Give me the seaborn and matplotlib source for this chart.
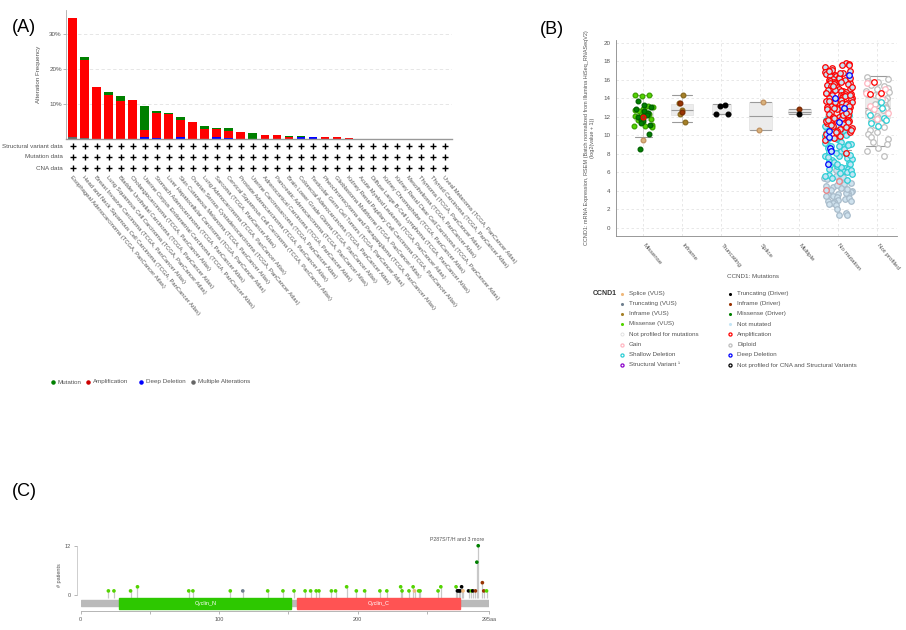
import numpy as np
import pandas as pd
import matplotlib
matplotlib.use("Agg")
import matplotlib.pyplot as plt
from matplotlib.patches import Rectangle
import seaborn as sns

sns.set_theme(style="white")
plt.rcParams["font.family"] = ["Liberation Sans", "DejaVu Sans"]

# ---------------------------------------------------------------- data (A)
cancer_types = [
    "Esophageal Adenocarcinoma", "Head and Neck Squamous Cell Carcinoma",
    "Breast Invasive Carcinoma", "Lung Squamous Cell Carcinoma",
    "Bladder Urothelial Carcinoma", "Cholangiocarcinoma",
    "Uterine Corpus Endometrial Carcinoma", "Stomach Adenocarcinoma",
    "Liver Hepatocellular Carcinoma", "Skin Cutaneous Melanoma",
    "Ovarian Serous Cystadenocarcinoma", "Lung Adenocarcinoma", "Sarcoma",
    "Cervical Squamous Cell Carcinoma", "Prostate Adenocarcinoma",
    "Uterine Carcinosarcoma", "Adrenocortical Carcinoma",
    "Pancreatic Adenocarcinoma", "Brain Lower Grade Glioma",
    "Colorectal Adenocarcinoma", "Testicular Germ Cell Tumors",
    "Pheochromocytoma and Paraganglioma", "Glioblastoma Multiforme",
    "Kidney Renal Papillary Cell Carcinoma", "Acute Myeloid Leukemia",
    "Diffuse Large B-Cell Lymphoma", "Kidney Chromophobe",
    "Kidney Renal Clear Cell Carcinoma", "Mesothelioma", "Thymoma",
    "Thyroid Carcinoma", "Uveal Melanoma",
]
study_suffix = " (TCGA, PanCancer Atlas)"
pct_mutation = [0, 0.75, 0, 0.7, 1.2, 0, 7.0, 0.6, 0.2, 0.9, 0.1, 0.6, 0.3, 0.7,
                0, 1.6, 0, 0, 0.4, 0.3, 0, 0, 0, 0, 0, 0, 0, 0, 0, 0, 0, 0]
pct_amplification = [34.0, 22.3, 14.8, 12.5, 10.9, 11.0, 1.8, 6.9, 7.0, 4.9, 4.7,
                     2.9, 2.2, 2.0, 1.8, 0, 1.05, 1.05, 0.45, 0, 0, 0.4, 0.4,
                     0.3, 0, 0, 0, 0, 0, 0, 0, 0]
pct_deep_deletion = [0, 0, 0, 0, 0, 0, 0.6, 0.3, 0, 0.4, 0, 0, 0.6, 0.3, 0, 0,
                     0, 0, 0, 0.35, 0.5, 0, 0, 0, 0, 0, 0, 0, 0, 0, 0, 0]
pct_multiple = [0.5, 0.3, 0, 0, 0, 0, 0, 0, 0, 0, 0, 0, 0, 0, 0, 0,
                0, 0, 0, 0, 0, 0, 0, 0, 0, 0, 0, 0, 0, 0, 0, 0]
profile_rows = ["Structural variant data", "Mutation data", "CNA data"]
freq_legend = ["Mutation", "Amplification", "Deep Deletion", "Multiple Alterations"]

# ---------------------------------------------------------------- data (B)
mut_categories = ["Missense", "Inframe", "Truncating", "Splice", "Multiple",
                  "No mutation", "Not profiled"]
box_lo = [9.8, 11.4, 12.3, 10.6, 12.3, 8.4, 8.8]
box_q1 = [11.6, 12.2, 12.3, 10.6, 12.3, 11.2, 11.9]
box_med = [12.0, 12.7, 12.35, 12.1, 12.55, 12.1, 12.9]
box_q3 = [12.7, 13.4, 13.4, 13.6, 12.8, 13.0, 14.0]
box_hi = [14.3, 14.4, 13.4, 13.6, 12.8, 15.7, 16.4]

missense_vus = [14.3, 14.3, 14.2, 13.2, 13.1, 12.9, 12.8, 12.7, 12.6, 12.5, 12.4,
                12.3, 12.2, 12.1, 11.9, 11.8, 11.6, 11.4, 11.1, 11.0, 11.0, 10.9]
missense_driver = [13.7, 13.3, 13.0, 12.8, 12.6, 12.4, 12.2, 12.1, 12.0, 11.9,
                   11.7, 11.5, 11.3, 11.1, 10.1, 8.5]
missense_splice = [9.5]
missense_amp = [12.0]
inframe_vus = [14.4, 13.5, 12.7, 12.3, 11.4]
inframe_driver = [13.5, 12.5]
truncating_driver = [13.3, 13.2, 12.35, 12.3]
splice_vus = [13.6, 10.6]
multiple_inframe = [12.8]
multiple_truncating = [12.35]

nomut_diploid = [6.2, 5.9, 5.8, 5.6, 5.4, 5.3, 5.1, 5.0, 4.9, 4.8, 4.7, 4.5, 4.4,
                 4.3, 4.1, 4.0, 3.9, 3.8, 3.6, 3.5, 3.5, 3.4, 3.3, 3.1, 3.0, 2.9,
                 2.8, 2.8, 2.7, 2.6, 2.5, 2.0, 1.6, 1.4, 1.4, 4.6, 3.7, 3.2, 5.5,
                 4.2, 2.9, 3.4]
nomut_shallow = [12.2, 11.9, 11.7, 11.5, 11.4, 11.2, 11.1, 10.9, 10.8, 10.7, 10.5,
                 10.4, 10.3, 10.1, 10.0, 9.9, 9.8, 9.6, 9.5, 9.4, 9.3, 9.1, 9.0,
                 8.9, 8.8, 8.7, 8.6, 8.4, 8.3, 8.2, 8.0, 7.9, 7.8, 7.7, 7.5, 7.4,
                 7.3, 7.2, 7.0, 6.9, 6.8, 6.7, 6.5, 6.4, 6.3, 6.1, 6.0, 5.9, 5.7,
                 5.6, 5.4, 5.2, 11.6, 11.0, 10.6, 10.2, 9.7, 9.2, 8.8, 8.5, 8.1,
                 7.6, 7.1, 6.6, 6.2, 5.8, 10.9, 9.9, 8.9, 7.9, 6.9]
nomut_amp = [17.8, 17.7, 17.6, 17.6, 17.4, 17.3, 17.1, 17.0, 16.9, 16.8, 16.7,
             16.6, 16.5, 16.4, 16.4, 16.3, 16.2, 16.1, 16.0, 16.0, 15.9, 15.8,
             15.7, 15.7, 15.6, 15.5, 15.4, 15.4, 15.3, 15.2, 15.1, 15.0, 15.0,
             14.9, 14.8, 14.8, 14.7, 14.6, 14.5, 14.5, 14.4, 14.3, 14.3, 14.2,
             14.1, 14.0, 14.0, 13.9, 13.8, 13.8, 13.7, 13.6, 13.5, 13.5, 13.4,
             13.3, 13.3, 13.2, 13.1, 13.0, 13.0, 12.9, 12.8, 12.8, 12.7, 12.6,
             12.5, 12.5, 12.4, 12.3, 12.2, 12.1, 12.0, 12.0, 11.9, 11.8, 11.7,
             11.6, 11.5, 11.4, 11.3, 11.2, 11.0, 10.9, 10.7, 10.5, 10.3, 10.1,
             9.9, 9.7, 9.5, 8.1, 16.7, 16.2, 15.8, 15.5, 15.2, 14.9, 14.6, 14.2,
             13.9, 13.6, 13.2, 12.9, 12.6, 12.2, 11.9, 11.5, 11.1, 10.8, 10.4,
             16.9, 15.3, 14.4, 13.7, 12.4, 11.7, 10.6]
nomut_gain = [5.0, 4.1]
nomut_deep = [16.5, 14.0, 12.9, 11.4, 10.5, 9.8, 8.6, 8.3, 6.9]

notprof_diploid = [16.3, 16.1, 15.9, 15.8, 15.6, 15.4, 15.3, 15.1, 15.0, 14.8,
                   14.7, 14.5, 14.3, 14.2, 14.0, 13.8, 13.6, 13.4, 13.3, 13.1,
                   12.9, 12.7, 12.5, 12.3, 12.1, 11.9, 11.7, 11.5, 11.3, 11.1,
                   10.9, 10.6, 10.4, 10.1, 9.8, 9.6, 9.3, 9.0, 8.6, 8.3, 7.7]
notprof_gain = [15.6, 15.0, 14.6, 13.9, 13.2, 12.8, 12.4, 11.8]
notprof_shallow = [13.6, 12.9, 12.2, 11.9, 11.6, 11.3, 11.0]
notprof_amp = [15.8, 14.6, 14.5]

legend_b_left = ["Splice (VUS)", "Truncating (VUS)", "Inframe (VUS)", "Missense (VUS)",
                 "Not profiled for mutations", "Gain", "Shallow Deletion",
                 "Structural Variant \u00b9"]
legend_b_right = ["Truncating (Driver)", "Inframe (Driver)", "Missense (Driver)",
                  "Not mutated", "Amplification", "Diploid", "Deep Deletion",
                  "Not profiled for CNA and Structural Variants"]

# ---------------------------------------------------------------- data (C)
protein_length = 295
domain_names = ["Cyclin_N", "Cyclin_C"]
domain_start = [28, 156]
domain_end = [152, 274]
lolli_pos = [20, 24, 36, 41, 78, 81, 108, 117, 135, 146, 154, 162, 166, 170, 172,
             181, 184, 192, 199, 205, 216, 221, 231, 232, 237, 240, 241, 244, 245,
             258, 260, 271, 272, 273, 274, 275, 276, 280, 282, 283, 285, 286, 287,
             290, 291, 293]
lolli_count = [1, 1, 1, 2, 1, 1, 1, 1, 1, 1, 1, 1, 1, 1, 1, 1, 1, 2, 1, 1, 1, 1,
               2, 1, 1, 2, 1, 1, 1, 1, 2, 2, 1, 1, 1, 2, 1, 1, 1, 1, 1, 8, 12, 3,
               1, 1]
lolli_type = ["Missense (VUS)"] * 7 + ["Truncating (VUS)"] + ["Missense (VUS)"] * 18 + \
             ["Splice (VUS)"] + ["Missense (VUS)"] * 4 + \
             ["Missense (VUS)", "Truncating (Driver)", "Truncating (Driver)",
              "Truncating (Driver)", "Truncating (Driver)", "Splice (VUS)",
              "Truncating (Driver)", "Missense (VUS)", "Truncating (Driver)",
              "Inframe (Driver)", "Missense (Driver)", "Missense (Driver)",
              "Inframe (Driver)", "Inframe (Driver)", "Missense (VUS)"]
hotspot_label = "P287S/T/H and 3 more"

# ---------------------------------------------------------------- colours
C_MUT, C_AMP, C_DEL, C_MULTI = "#008000", "#ff0000", "#0000ff", "#666666"
mut_colors = {
    "Splice (VUS)": "#f0b87b", "Truncating (VUS)": "#708090",
    "Inframe (VUS)": "#a68028", "Missense (VUS)": "#53d400",
    "Truncating (Driver)": "#000000", "Inframe (Driver)": "#993404",
    "Missense (Driver)": "#008000",
}
C_NOTMUT = "#c4e5f5"
C_GAIN, C_SHALLOW, C_SV = "#ffb6c1", "#2aced4", "#8b00c9"
C_DIPLOID = "#bebebe"
TXT = "#555555"

W, H = 906, 630
fig = plt.figure(figsize=(W / 100, H / 100), dpi=100)


def px_axes(x0, y0, x1, y1):
    ax = fig.add_axes([x0 / W, 1 - y1 / H, (x1 - x0) / W, (y1 - y0) / H])
    ax.set_facecolor("none")
    return ax


ann = fig.add_axes([0, 0, 1, 1])
ann.set_xlim(0, W)
ann.set_ylim(H, 0)
ann.axis("off")

# ================================================================ panel A
axA = px_axes(66, 9.5, 452, 138.7)
cum_multi = np.array(pct_multiple)
cum_del = cum_multi + np.array(pct_deep_deletion)
cum_amp = cum_del + np.array(pct_amplification)
cum_mut = cum_amp + np.array(pct_mutation)
for tops, col in [(cum_mut, C_MUT), (cum_amp, C_AMP), (cum_del, C_DEL), (cum_multi, C_MULTI)]:
    sns.barplot(x=cancer_types, y=tops, order=cancer_types, color=col, saturation=1,
                width=0.7, errorbar=None, linewidth=0, ax=axA)
axA.set_xlim(-0.55, 31.6)
axA.set_ylim(0, 36.9)
axA.set_yticks([10, 20, 30])
axA.set_yticklabels(["10%", "20%", "30%"], fontsize=4.5, color=TXT)
axA.tick_params(axis="x", bottom=False, labelbottom=False)
axA.tick_params(axis="y", left=True, length=2, width=0.5, color="#999999", pad=1)
axA.set_xlabel("")
axA.set_ylabel("Alteration Frequency", fontsize=4.5, color=TXT, labelpad=6)
axA.yaxis.grid(True, linestyle=(0, (4, 3)), color="#e2e2e2", linewidth=0.6)
axA.set_axisbelow(True)
for s in ["top", "right"]:
    axA.spines[s].set_visible(False)
axA.spines["left"].set_color("#aaaaaa")
axA.spines["left"].set_linewidth(0.6)
axA.spines["bottom"].set_color("#999999")
axA.spines["bottom"].set_linewidth(1.0)

axR = px_axes(66, 140, 452, 340)
axR.set_xlim(-0.55, 31.6)
axR.set_ylim(340, 140)
axR.axis("off")
cols = np.arange(len(cancer_types))
for row_name, ry in zip(profile_rows, [146, 157, 168]):
    axR.scatter(cols, np.full(len(cols), ry), marker="+", s=16, linewidths=1.0,
                color="black")
    axR.text(-0.8, ry, row_name, ha="right", va="center", fontsize=4.5, color=TXT)
for i, name in enumerate(cancer_types):
    axR.text(i - 0.15, 176, name + study_suffix, rotation=-50, rotation_mode="anchor",
             ha="left", va="center", fontsize=4.2, color=TXT)

for lx, lab, col in zip([53, 88, 141, 193], freq_legend, [C_MUT, "#cc0000", C_DEL, C_MULTI]):
    ann.scatter([lx], [382], s=5, color=col)
    ann.text(lx + 5, 382, lab, va="center", ha="left", fontsize=4.5, color=TXT)

# ================================================================ panel B
axB = px_axes(616, 40, 897, 236)
stats = [dict(med=m, q1=a, q3=b, whislo=lo, whishi=hi, fliers=[])
         for m, a, b, lo, hi in zip(box_med, box_q1, box_q3, box_lo, box_hi)]
box_w = [0.5, 0.57, 0.5, 0.58, 0.6, 0.7, 0.65]
axB.bxp(stats, positions=range(len(mut_categories)), widths=box_w,
        capwidths=[w * 0.9 for w in box_w], patch_artist=True, showfliers=False,
        boxprops=dict(facecolor="#ececec", edgecolor="#e0e0e0", linewidth=0.5),
        medianprops=dict(color="#9a9a9a", linewidth=0.8),
        whiskerprops=dict(color="#c8c8c8", linewidth=0.5),
        capprops=dict(color="#9a9a9a", linewidth=0.8), zorder=1)

point_groups = [
    ("Missense", missense_vus, mut_colors["Missense (VUS)"], "#3aa000", 0.25),
    ("Missense", missense_driver, mut_colors["Missense (Driver)"], "#006000", 0.25),
    ("Missense", missense_splice, "#d9b27c", "#c09060", 0.25),
    ("Missense", missense_amp, "#8b4513", C_AMP, 0.05),
    ("Inframe", inframe_vus, mut_colors["Inframe (VUS)"], "#8a6a20", 0.2),
    ("Inframe", inframe_driver, mut_colors["Inframe (Driver)"], "#7a2a03", 0.2),
    ("Truncating", truncating_driver, "#000000", "#000000", 0.2),
    ("Splice", splice_vus, "#d9b27c", "#c09060", 0.15),
    ("Multiple", multiple_inframe, mut_colors["Inframe (Driver)"], "#7a2a03", 0.15),
    ("Multiple", multiple_truncating, "#000000", "#000000", 0.15),
    ("No mutation", nomut_diploid, "#cfe2ee", "#a9bccb", 0.36),
    ("No mutation", nomut_shallow, C_NOTMUT, C_SHALLOW, 0.36),
    ("No mutation", nomut_amp, C_NOTMUT, C_AMP, 0.36),
    ("No mutation", nomut_gain, C_NOTMUT, "#f08080", 0.36),
    ("No mutation", nomut_deep, C_NOTMUT, C_DEL, 0.3),
    ("Not profiled", notprof_diploid, "#ffffff", C_DIPLOID, 0.3),
    ("Not profiled", notprof_gain, "#ffffff", C_GAIN, 0.3),
    ("Not profiled", notprof_shallow, "#ffffff", C_SHALLOW, 0.25),
    ("Not profiled", notprof_amp, "#ffffff", C_AMP, 0.2),
]
np.random.seed(7)
for cat, vals, face, edge, jit in point_groups:
    sub = pd.DataFrame({"category": [cat] * len(vals), "value": vals})
    big = cat in ("No mutation", "Not profiled")
    sns.stripplot(data=sub, x="category", y="value", order=mut_categories,
                  jitter=jit, color=face, edgecolor=edge, linewidth=0.9,
                  size=4.0 if big else 3.4, ax=axB, zorder=3)

axB.set_xlim(-0.7, 6.5)
axB.set_ylim(-0.9, 20.3)
axB.set_yticks(range(0, 21, 2))
axB.set_yticklabels([str(v) for v in range(0, 21, 2)], fontsize=4.5, color=TXT)
axB.set_xticks(range(len(mut_categories)))
axB.set_xticklabels(mut_categories, rotation=-50, rotation_mode="anchor", ha="left",
                    va="center", fontsize=4.5, color=TXT)
axB.tick_params(axis="both", length=2, width=0.5, color="#999999", pad=2)
axB.tick_params(axis="x", pad=4)
axB.set_xlabel("")
ann.text(753, 276, "CCND1: Mutations", ha="center", va="center", fontsize=4.5, color=TXT)
axB.set_ylabel("CCND1: mRNA Expression, RSEM (Batch normalized from Illumina "
               "HiSeq_RNASeqV2)\n(log2(value + 1))", fontsize=4.0, color=TXT,
               labelpad=6)
axB.grid(True, linestyle=(0, (3, 3)), color="#e4e4e4", linewidth=0.6)
axB.set_axisbelow(True)
for s in ["top", "right"]:
    axB.spines[s].set_visible(False)
for s in ["left", "bottom"]:
    axB.spines[s].set_color("#888888")
    axB.spines[s].set_linewidth(0.6)

# legend (B)
ann.text(593, 293.5, "CCND1", fontsize=5, fontweight="bold", color="#333333",
         va="center", ha="left")
row_y = [293.5, 303.7, 313.8, 324, 334.2, 344.5, 354.8, 365]
left_style = [(mut_colors["Splice (VUS)"], mut_colors["Splice (VUS)"], 0),
              (mut_colors["Truncating (VUS)"], mut_colors["Truncating (VUS)"], 0),
              (mut_colors["Inframe (VUS)"], mut_colors["Inframe (VUS)"], 0),
              (mut_colors["Missense (VUS)"], mut_colors["Missense (VUS)"], 0),
              ("#ffffff", "#dddddd", 0.6), ("#ffffff", C_GAIN, 0.9),
              ("#ffffff", C_SHALLOW, 0.9), ("#ffffff", C_SV, 0.9)]
right_style = [("#000000", "#000000", 0), (mut_colors["Inframe (Driver)"], mut_colors["Inframe (Driver)"], 0),
               (mut_colors["Missense (Driver)"], mut_colors["Missense (Driver)"], 0),
               (C_NOTMUT, C_NOTMUT, 0), ("#ffffff", C_AMP, 0.9),
               ("#ffffff", C_DIPLOID, 0.9), ("#ffffff", C_DEL, 0.9),
               ("#ffffff", "#000000", 0.9)]
for xm, labels, styles in [(622, legend_b_left, left_style), (730, legend_b_right, right_style)]:
    for y, lab, (fc, ec, lw) in zip(row_y, labels, styles):
        ann.scatter([xm], [y], s=5, facecolor=fc, edgecolor=ec, linewidths=lw)
        ann.text(xm + 7, y, lab, va="center", ha="left", fontsize=4.5, color=TXT)

# ================================================================ panel C
axC = px_axes(80.7, 540, 489.3, 611)
for s in ["top", "right"]:
    axC.spines[s].set_visible(False)
axC.spines["left"].set_position(("outward", 3))
axC.spines["left"].set_bounds(0, 12)
axC.spines["left"].set_color("#bbbbbb")
axC.spines["left"].set_linewidth(0.5)
axC.spines["bottom"].set_color("#aaaaaa")
axC.spines["bottom"].set_linewidth(0.6)
axC.set_xlim(0, protein_length)
axC.set_ylim(-3.9, 13.4)
axC.add_patch(Rectangle((0, -2.68), protein_length, 1.46, color="#bababa", zorder=1))
for name, a, b, col in zip(domain_names, domain_start, domain_end, ["#2dc800", "#ff5353"]):
    axC.add_patch(Rectangle((a, -3.34), b - a, 2.54, color=col, zorder=2))
    axC.text((a + b) / 2, -2.07, name, ha="center", va="center", fontsize=4,
             color="white", zorder=3)
axC.vlines(lolli_pos, -0.8, lolli_count, color="#c8c8c8", linewidth=0.9, zorder=1)
lolli_df = pd.DataFrame({"pos": lolli_pos, "count": lolli_count, "type": lolli_type})
sns.scatterplot(data=lolli_df, x="pos", y="count", hue="type", palette=mut_colors,
                s=7, linewidth=0, legend=False, ax=axC, zorder=4)
axC.text(272, 12.9, hotspot_label, ha="center", va="bottom", fontsize=3.8, color=TXT)
axC.set_xticks([0, 100, 200, 295])
axC.set_xticklabels(["0", "100", "200", "295aa"], fontsize=4, color=TXT)
axC.set_xticks([50, 150, 250], minor=True)
axC.set_yticks([0, 12])
axC.set_yticklabels(["0", "12"], fontsize=4, color=TXT)
axC.tick_params(axis="both", which="both", length=2, width=0.5, color="#999999", pad=2)
axC.tick_params(axis="x", which="both", bottom=True)
axC.tick_params(axis="y", left=True)
axC.set_xlabel("")
axC.set_ylabel("# patients", fontsize=4, color=TXT, labelpad=2)

# panel letters
for lx, ly, lab in [(12, 27, "(A)"), (540, 30, "(B)"), (12, 492, "(C)")]:
    ann.text(lx, ly, lab, fontsize=13, color="black", va="center", ha="left")

fig.savefig("out.png", dpi=100)
